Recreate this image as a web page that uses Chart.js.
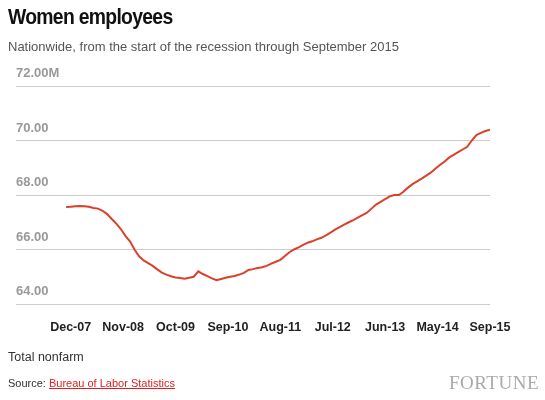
<!DOCTYPE html>
<html>
<head>
<meta charset="utf-8">
<script src="https://cdn.jsdelivr.net/npm/chart.js@4"></script>
<style>
  body { margin: 0; background: #fff; font-family: "Liberation Sans", Arial, sans-serif; }
  #wrap { position: relative; width: 545px; height: 400px; }
  #c { position: absolute; left: 0; top: 0; }
  .t { position: absolute; white-space: nowrap; }
  #title { left: 8px; top: 4px; font-size: 22px; font-weight: bold; letter-spacing: -0.8px; transform: scaleX(0.88); transform-origin: left; color: #111; }
  #sub { left: 8px; top: 39px; font-size: 13px; color: #555; }
  #note { left: 8px; top: 350px; font-size: 12.5px; color: #333; }
  #src { left: 8px; top: 377px; font-size: 11px; color: #333; }
  #src span { color: #d22; text-decoration: underline; }
  #logo { right: 6px; top: 372px; font-family: "Liberation Serif", serif; font-size: 19px; color: #aaa; letter-spacing: 0.5px; }
</style>
</head>
<body>
<div id="wrap">
  <canvas id="c" width="545" height="400"></canvas>
  <div class="t" id="title">Women employees</div>
  <div class="t" id="sub">Nationwide, from the start of the recession through September 2015</div>
  <div class="t" id="note">Total nonfarm</div>
  <div class="t" id="src">Source: <span>Bureau of Labor Statistics</span></div>
  <div class="t" id="logo">FORTUNE</div>
</div>
<script>
// monthly, Dec-07 .. Sep-15, millions
const values = [
  67.56, 67.57, 67.59, 67.6, 67.59, 67.57, 67.52, 67.5, 67.42, 67.3,
  67.12, 66.95, 66.75, 66.5, 66.3, 66.0, 65.75, 65.6, 65.5, 65.4,
  65.27, 65.15, 65.08, 65.02, 64.97, 64.95, 64.93, 64.96, 65.0, 65.2,
  65.1, 65.02, 64.94, 64.87, 64.92, 64.96, 65.0, 65.03, 65.08, 65.14,
  65.25, 65.28, 65.32, 65.35, 65.4, 65.48, 65.55, 65.62, 65.76, 65.9,
  66.0, 66.08, 66.17, 66.25, 66.3, 66.37, 66.43, 66.52, 66.62, 66.73,
  66.82, 66.91, 67.0, 67.08, 67.17, 67.26, 67.35, 67.5, 67.65, 67.75,
  67.85, 67.95, 68.0, 68.0, 68.12, 68.27, 68.4, 68.5, 68.6, 68.71,
  68.82, 68.96, 69.1, 69.22, 69.37, 69.47, 69.57, 69.67, 69.77, 70.0,
  70.2, 70.28, 70.35, 70.4
];
const xLabels = ["Dec-07", "Nov-08", "Oct-09", "Sep-10", "Aug-11", "Jul-12", "Jun-13", "May-14", "Sep-15"];
const yTicks = [64, 66, 68, 70, 72];
const yLabels = ["64.00", "66.00", "68.00", "70.00", "72.00M"];

const points = values.map((v, i) => ({ x: i, y: v }));
const first = 1, last = values.length - 1;
const step = (last - first) / (xLabels.length - 1);

const yLabelPlugin = {
  id: "yLabels",
  afterDraw(chart) {
    const ctx = chart.ctx, y = chart.scales.y;
    ctx.save();
    ctx.font = "bold 13px 'Liberation Sans', Arial, sans-serif";
    ctx.fillStyle = "#999";
    ctx.textBaseline = "bottom";
    yTicks.forEach((t, i) => ctx.fillText(yLabels[i], chart.chartArea.left, y.getPixelForValue(t) - 6));
    ctx.restore();
  }
};

new Chart(document.getElementById("c"), {
  type: "line",
  data: { datasets: [{ data: points, borderColor: "#d9412b", borderWidth: 2, pointRadius: 0, tension: 0 }] },
  options: {
    responsive: false, animation: false,
    layout: { padding: { top: 86, left: 16, right: 55, bottom: 57 } },
    plugins: { legend: { display: false }, tooltip: { enabled: false } },
    scales: {
      x: {
        type: "linear", min: -11, max: last,
        grid: { display: false }, border: { display: false },
        afterBuildTicks(s) { s.ticks = xLabels.map((l, i) => ({ value: first + i * step })); },
        ticks: {
          autoSkip: false, maxRotation: 0, color: "#222", padding: 8,
          font: { family: "'Liberation Sans', Arial, sans-serif", size: 12.5, weight: "bold" },
          callback: (v, i) => xLabels[i]
        }
      },
      y: {
        min: 64, max: 72,
        afterBuildTicks(s) { s.ticks = yTicks.map(v => ({ value: v })); },
        grid: { color: "#ccc", drawTicks: false },
        border: { display: false },
        ticks: { display: false }
      }
    }
  },
  plugins: [yLabelPlugin]
});
</script>
</body>
</html>
